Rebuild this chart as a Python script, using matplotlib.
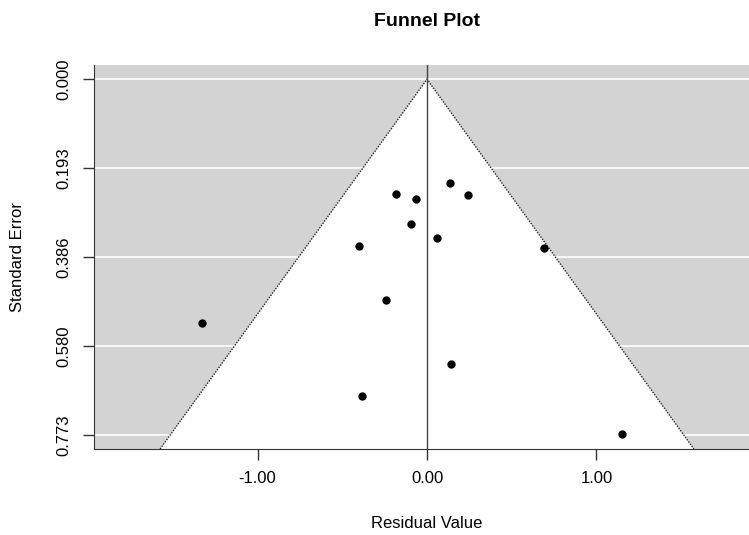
import matplotlib.pyplot as plt
import numpy as np

plt.rcParams['font.family'] = ['Liberation Sans', 'DejaVu Sans']

# residuals and standard errors
resid = [0.134, -0.181, -0.067, 0.240, -0.093, 0.059, -0.402, 0.689,
         -1.327, -0.242, 0.140, -0.382, 1.150]
se = [0.226, 0.249, 0.260, 0.252, 0.314, 0.346, 0.363, 0.367,
      0.529, 0.480, 0.619, 0.688, 0.771]
yticks = [0.000, 0.193, 0.386, 0.580, 0.773]
xticks = [-1.0, 0.0, 1.0]

W, H = 749, 535
fig = plt.figure(figsize=(W / 100, H / 100), dpi=100)
ax = fig.add_axes([94 / W, (H - 449) / H, (760 - 94) / W, (449 - 65) / H])

ymax = 0.773 * 1.04
ymin = -0.773 * 0.04
ax.set_xlim(-1.966, 1.966)
ax.set_ylim(ymax, ymin)
ax.set_facecolor('#D3D3D3')

for t in yticks:
    ax.axhline(t, color='white', lw=1.2, zorder=1)

z = 1.96
ax.fill([0, -z * ymax, z * ymax], [0, ymax, ymax], color='white', zorder=2, lw=0)
ax.plot([-z * ymax, 0, z * ymax], [ymax, 0, ymax], color='#222222', lw=1,
        linestyle=(0, (1, 1)), zorder=3)
ax.plot([0, 0], [ymin, ymax], color='#444444', lw=1, zorder=3)

ax.plot(resid, se, 'o', color='black', markersize=5, zorder=4)

ax.set_yticks(yticks)
ax.set_yticklabels(['%.3f' % t for t in yticks], rotation=90, va='center')
ax.set_xticks(xticks)
ax.set_xticklabels(['%.2f' % t for t in xticks])
ax.tick_params(axis='both', direction='out', length=8, width=1, color='#333333',
               labelsize=12, pad=8)

for s in ['top', 'right']:
    ax.spines[s].set_visible(False)
for s in ['left', 'bottom']:
    ax.spines[s].set_color('#333333')

fig.text(427 / W, 1 - 22 / H, 'Funnel Plot', ha='center', va='center',
         fontsize=14, fontweight='bold')
fig.text(427 / W, 1 - 523 / H, 'Residual Value', ha='center', va='center', fontsize=12)
fig.text(18 / W, 1 - 257 / H, 'Standard Error', ha='center', va='center',
         fontsize=12, rotation=90)

fig.savefig('out.png', dpi=100)
